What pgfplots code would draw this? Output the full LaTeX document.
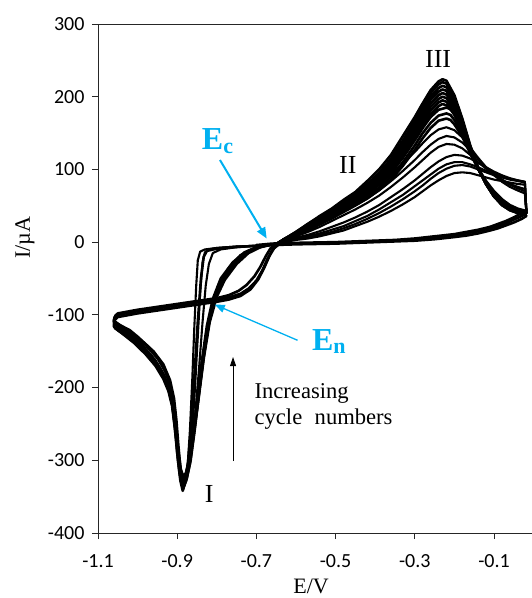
\documentclass[border=0pt]{standalone}
\usepackage{fontspec}
\setmainfont{Liberation Serif}
\newfontfamily\tickfont{Carlito}
\usepackage{pgfplots}
\pgfplotsset{compat=1.18}
\usetikzlibrary{arrows.meta}
\definecolor{ecblue}{RGB}{0,176,240}
\pgfplotsset{cv/.style={black, line width=2.6pt, line join=round, line cap=round, mark=none},
  cva/.style={black, line width=2.1pt, line join=round, line cap=round, mark=none}}
\begin{document}
\begin{tikzpicture}
\begin{axis}[
  scale only axis, width=434pt, height=509pt,
  xmin=-1.1, xmax=-0.004, ymin=-400, ymax=300,
  axis x line*=bottom, axis y line*=left,
  axis line style={black!85, line width=0.9pt, -},
  tick align=outside, major tick length=6pt,
  tick style={black!85, line width=0.9pt},
  xtick={-1.1,-0.9,-0.7,-0.5,-0.3,-0.1},
  xticklabels={-1.1,-0.9,-0.7,-0.5,-0.3,-0.1},
  ytick={-400,-300,-200,-100,0,100,200,300},
  yticklabels={-400,-300,-200,-100,0,100,200,300},
  ticklabel style={font=\tickfont\fontsize{20}{20}\selectfont, text=black},
  xticklabel style={yshift=-12pt},
  yticklabel style={xshift=-4pt},
  clip mode=individual,
]
% ---- anodic sweeps (early cycles)
\addplot[cva] coordinates {(-0.65,-3) (-0.63,0) (-0.60,3) (-0.57,5) (-0.54,8) (-0.51,12) (-0.48,16) (-0.45,22) (-0.42,28) (-0.39,35) (-0.36,43) (-0.33,52) (-0.30,62) (-0.28,70) (-0.26,78) (-0.24,85) (-0.22,91) (-0.20,95) (-0.18,96) (-0.16,95) (-0.14,92) (-0.12,89) (-0.10,86) (-0.08,84) (-0.06,82) (-0.04,80) (-0.022,79) (-0.018,40)};
\addplot[cva] coordinates {(-0.65,-3) (-0.63,1) (-0.60,4) (-0.57,7) (-0.54,10) (-0.51,14) (-0.48,19) (-0.45,25) (-0.42,32) (-0.39,40) (-0.36,49) (-0.33,59) (-0.30,70) (-0.28,78) (-0.26,87) (-0.24,95) (-0.22,101) (-0.20,105) (-0.18,106) (-0.16,104) (-0.14,100) (-0.12,96) (-0.10,92) (-0.08,89) (-0.06,86) (-0.04,84) (-0.022,82) (-0.018,40)};
\addplot[cva] coordinates {(-0.65,-3) (-0.63,1) (-0.60,5) (-0.57,8) (-0.54,12) (-0.51,17) (-0.48,22) (-0.45,29) (-0.42,36) (-0.39,45) (-0.36,55) (-0.33,65) (-0.30,77) (-0.28,85) (-0.26,93) (-0.24,101) (-0.22,107) (-0.20,110) (-0.18,110) (-0.16,107) (-0.14,103) (-0.12,98) (-0.10,94) (-0.08,90) (-0.06,87) (-0.04,85) (-0.022,83) (-0.018,40)};
\addplot[cva] coordinates {(-0.65,-3) (-0.63,1) (-0.60,6) (-0.57,10) (-0.54,15) (-0.51,21) (-0.48,27) (-0.45,34) (-0.42,42) (-0.39,51) (-0.36,62) (-0.33,73) (-0.30,85) (-0.28,94) (-0.26,103) (-0.24,111) (-0.22,117) (-0.20,120) (-0.18,119) (-0.16,115) (-0.14,109) (-0.12,103) (-0.10,97) (-0.08,92) (-0.06,88) (-0.04,85) (-0.022,83) (-0.018,40)};
% ---- anodic sweeps (middle cycles)
\addplot[cva] coordinates {(-0.65,-3) (-0.63,2) (-0.60,8) (-0.57,14) (-0.54,21) (-0.51,29) (-0.48,37) (-0.45,45) (-0.42,54) (-0.39,64) (-0.36,76) (-0.33,89) (-0.30,103) (-0.28,113) (-0.26,123) (-0.24,131) (-0.22,135) (-0.20,134) (-0.18,129) (-0.16,120) (-0.14,110) (-0.12,101) (-0.10,93) (-0.08,86) (-0.06,80) (-0.04,76) (-0.022,73) (-0.018,40)};
\addplot[cva] coordinates {(-0.65,-3) (-0.63,2) (-0.60,9) (-0.57,16) (-0.54,24) (-0.51,32) (-0.48,41) (-0.45,50) (-0.42,60) (-0.39,71) (-0.36,84) (-0.33,98) (-0.30,113) (-0.28,124) (-0.26,134) (-0.24,142) (-0.22,146) (-0.20,144) (-0.18,137) (-0.16,126) (-0.14,114) (-0.12,103) (-0.10,94) (-0.08,86) (-0.06,79) (-0.04,74) (-0.022,70) (-0.018,40)};
\addplot[cva] coordinates {(-0.65,-3) (-0.63,3) (-0.60,10) (-0.57,18) (-0.54,27) (-0.51,36) (-0.48,46) (-0.45,56) (-0.42,67) (-0.39,79) (-0.36,93) (-0.33,108) (-0.30,124) (-0.28,136) (-0.26,147) (-0.24,155) (-0.22,158) (-0.20,154) (-0.18,144) (-0.16,130) (-0.14,116) (-0.12,103) (-0.10,92) (-0.08,83) (-0.06,76) (-0.04,71) (-0.022,67) (-0.018,40)};
% ---- anodic sweeps (late cycles)
\addplot[cv] coordinates {(-0.65,-3) (-0.63,3) (-0.60,10) (-0.57,18) (-0.54,26) (-0.51,34) (-0.48,43) (-0.45,51) (-0.42,60) (-0.39,72) (-0.36,86) (-0.33,105) (-0.30,127) (-0.28,143) (-0.26,157) (-0.24,167) (-0.22,170) (-0.21,168) (-0.20,162) (-0.18,145) (-0.16,122) (-0.14,101) (-0.12,84) (-0.10,70) (-0.08,59) (-0.06,51) (-0.04,46) (-0.02,43)};
\addplot[cv] coordinates {(-0.65,-3) (-0.63,3) (-0.60,11) (-0.57,19) (-0.54,28) (-0.51,36) (-0.48,45) (-0.45,54) (-0.42,63) (-0.39,75) (-0.36,90) (-0.33,110) (-0.30,133) (-0.28,150) (-0.26,164) (-0.24,174) (-0.22,177) (-0.21,175) (-0.20,168) (-0.18,149) (-0.16,124) (-0.14,101) (-0.12,83) (-0.10,68) (-0.08,57) (-0.06,49) (-0.04,45) (-0.02,42)};
\addplot[cv] coordinates {(-0.65,-3) (-0.63,3) (-0.60,11) (-0.57,20) (-0.54,29) (-0.51,38) (-0.48,47) (-0.45,56) (-0.42,66) (-0.39,79) (-0.36,95) (-0.33,116) (-0.30,140) (-0.28,157) (-0.26,172) (-0.24,182) (-0.22,185) (-0.21,183) (-0.20,175) (-0.18,153) (-0.16,126) (-0.14,101) (-0.12,82) (-0.10,67) (-0.08,56) (-0.06,48) (-0.04,44) (-0.02,41)};
\addplot[cv] coordinates {(-0.65,-3) (-0.63,4) (-0.60,12) (-0.57,20) (-0.54,30) (-0.51,39) (-0.48,48) (-0.45,57) (-0.42,68) (-0.39,81) (-0.36,97) (-0.33,119) (-0.30,143) (-0.28,161) (-0.26,176) (-0.24,187) (-0.23,190) (-0.22,188) (-0.20,177) (-0.18,154) (-0.16,126) (-0.14,101) (-0.12,81) (-0.10,66) (-0.08,55) (-0.06,47) (-0.04,43) (-0.02,40)};
\addplot[cv] coordinates {(-0.65,-3) (-0.63,4) (-0.60,12) (-0.57,21) (-0.54,30) (-0.51,40) (-0.48,49) (-0.45,59) (-0.42,70) (-0.39,83) (-0.36,100) (-0.33,122) (-0.30,147) (-0.28,165) (-0.26,181) (-0.24,192) (-0.23,195) (-0.22,193) (-0.20,180) (-0.18,156) (-0.16,127) (-0.14,101) (-0.12,81) (-0.10,65) (-0.08,54) (-0.06,47) (-0.04,43) (-0.02,40)};
\addplot[cv] coordinates {(-0.65,-3) (-0.63,4) (-0.60,12) (-0.57,21) (-0.54,31) (-0.51,41) (-0.48,50) (-0.45,60) (-0.42,71) (-0.39,85) (-0.36,103) (-0.33,125) (-0.30,151) (-0.28,170) (-0.26,186) (-0.24,197) (-0.23,200) (-0.22,198) (-0.20,184) (-0.18,158) (-0.16,128) (-0.14,101) (-0.12,80) (-0.10,64) (-0.08,53) (-0.06,46) (-0.04,42) (-0.02,39)};
\addplot[cv] coordinates {(-0.65,-3) (-0.63,4) (-0.60,12) (-0.57,22) (-0.54,32) (-0.51,42) (-0.48,52) (-0.45,62) (-0.42,73) (-0.39,87) (-0.36,106) (-0.33,129) (-0.30,155) (-0.28,174) (-0.26,191) (-0.24,202) (-0.23,205) (-0.22,203) (-0.20,188) (-0.18,161) (-0.16,129) (-0.14,101) (-0.12,80) (-0.10,64) (-0.08,53) (-0.06,46) (-0.04,42) (-0.02,39)};
\addplot[cv] coordinates {(-0.65,-3) (-0.63,4) (-0.60,13) (-0.57,23) (-0.54,33) (-0.51,43) (-0.48,53) (-0.45,63) (-0.42,75) (-0.39,89) (-0.36,108) (-0.33,132) (-0.30,159) (-0.28,178) (-0.26,196) (-0.24,207) (-0.23,210) (-0.22,208) (-0.20,191) (-0.18,163) (-0.16,130) (-0.14,101) (-0.12,80) (-0.10,63) (-0.08,52) (-0.06,45) (-0.04,41) (-0.02,38)};
\addplot[cv] coordinates {(-0.65,-3) (-0.63,4) (-0.60,13) (-0.57,24) (-0.54,34) (-0.51,44) (-0.48,54) (-0.45,65) (-0.42,77) (-0.39,92) (-0.36,111) (-0.33,136) (-0.30,163) (-0.28,182) (-0.26,200) (-0.24,212) (-0.23,215) (-0.22,213) (-0.20,195) (-0.18,166) (-0.16,131) (-0.14,102) (-0.12,80) (-0.10,63) (-0.08,52) (-0.06,45) (-0.04,41) (-0.02,38)};
\addplot[cv] coordinates {(-0.65,-3) (-0.63,4) (-0.60,14) (-0.57,25) (-0.54,35) (-0.51,44) (-0.48,56) (-0.45,67) (-0.42,80) (-0.39,95) (-0.36,115) (-0.33,140) (-0.30,167) (-0.28,187) (-0.26,205) (-0.24,217) (-0.23,220) (-0.22,218) (-0.20,199) (-0.18,168) (-0.16,132) (-0.14,102) (-0.12,80) (-0.10,63) (-0.08,51) (-0.06,44) (-0.04,40) (-0.02,38)};
\addplot[cv] coordinates {(-0.65,-3) (-0.63,4) (-0.60,14) (-0.57,25) (-0.54,36) (-0.51,46) (-0.48,58) (-0.45,69) (-0.42,84) (-0.39,100) (-0.36,120) (-0.33,146) (-0.30,172) (-0.28,191) (-0.26,209) (-0.24,221) (-0.23,224) (-0.22,222) (-0.20,202) (-0.18,170) (-0.16,133) (-0.14,103) (-0.12,80) (-0.10,63) (-0.08,51) (-0.06,44) (-0.04,40) (-0.02,38)};
% ---- cathodic sweeps, positive region
\addplot[cv] coordinates {(-0.018,40) (-0.03,36) (-0.05,31) (-0.07,26) (-0.09,22) (-0.11,19) (-0.14,15) (-0.17,12) (-0.20,9) (-0.25,6) (-0.30,4) (-0.35,2) (-0.40,1) (-0.50,-1) (-0.60,-2) (-0.66,-3) (-0.70,-5)};
\addplot[cv] coordinates {(-0.018,36) (-0.03,32) (-0.05,27) (-0.07,23) (-0.09,19) (-0.11,16) (-0.14,12) (-0.17,9) (-0.20,7) (-0.25,4) (-0.30,2) (-0.35,1) (-0.40,0) (-0.50,-2) (-0.60,-3) (-0.66,-4) (-0.70,-6)};
\addplot[cv] coordinates {(-0.018,44) (-0.03,40) (-0.05,34) (-0.07,29) (-0.09,25) (-0.11,21) (-0.14,17) (-0.17,14) (-0.20,11) (-0.25,8) (-0.30,5) (-0.35,3) (-0.40,2) (-0.50,0) (-0.60,-1) (-0.66,-2) (-0.70,-4)};
% ---- cathodic sweeps: nucleation, peak I, switching
\addplot[cva] coordinates {(-0.70,-5) (-0.75,-6) (-0.80,-8) (-0.83,-10) (-0.842,-13) (-0.848,-25) (-0.852,-60) (-0.857,-120) (-0.862,-190) (-0.868,-260) (-0.874,-310) (-0.88,-333) (-0.885,-340) (-0.89,-330) (-0.895,-305) (-0.90,-270) (-0.907,-230) (-0.915,-200) (-0.93,-178) (-0.95,-160) (-0.98,-142) (-1.01,-128) (-1.04,-117) (-1.055,-111) (-1.06,-106)};
\addplot[cva] coordinates {(-0.70,-5) (-0.75,-6) (-0.80,-8) (-0.82,-10) (-0.83,-14) (-0.836,-28) (-0.842,-70) (-0.848,-130) (-0.855,-200) (-0.862,-260) (-0.87,-305) (-0.878,-328) (-0.884,-335) (-0.89,-325) (-0.896,-300) (-0.902,-265) (-0.91,-225) (-0.92,-200) (-0.935,-180) (-0.955,-162) (-0.985,-143) (-1.015,-128) (-1.045,-117) (-1.058,-110) (-1.06,-105)};
\addplot[cva] coordinates {(-0.70,-5) (-0.75,-7) (-0.79,-10) (-0.81,-15) (-0.82,-30) (-0.828,-60) (-0.836,-110) (-0.845,-175) (-0.855,-240) (-0.865,-290) (-0.875,-320) (-0.883,-330) (-0.89,-320) (-0.897,-290) (-0.905,-250) (-0.915,-215) (-0.93,-190) (-0.95,-168) (-0.98,-148) (-1.01,-132) (-1.04,-120) (-1.055,-113) (-1.06,-108)};
\addplot[cv] coordinates {(-0.66,-3) (-0.70,-7) (-0.73,-14) (-0.76,-28) (-0.79,-50) (-0.81,-78) (-0.825,-115) (-0.838,-165) (-0.85,-220) (-0.86,-265) (-0.87,-300) (-0.88,-322) (-0.886,-326) (-0.892,-315) (-0.898,-290) (-0.905,-255) (-0.913,-222) (-0.925,-196) (-0.945,-172) (-0.975,-152) (-1.005,-136) (-1.035,-123) (-1.052,-116) (-1.06,-110)};
\addplot[cv] coordinates {(-0.66,-3) (-0.69,-7) (-0.72,-15) (-0.75,-30) (-0.78,-52) (-0.80,-75) (-0.818,-110) (-0.833,-160) (-0.846,-215) (-0.858,-262) (-0.868,-298) (-0.878,-318) (-0.885,-322) (-0.891,-312) (-0.897,-288) (-0.904,-255) (-0.912,-224) (-0.924,-198) (-0.942,-177) (-0.97,-158) (-1.0,-142) (-1.03,-129) (-1.05,-121) (-1.06,-116)};
\addplot[cv] coordinates {(-0.66,-3) (-0.70,-8) (-0.73,-17) (-0.76,-33) (-0.785,-52) (-0.805,-78) (-0.82,-112) (-0.834,-160) (-0.847,-215) (-0.858,-265) (-0.868,-305) (-0.877,-328) (-0.884,-336) (-0.89,-328) (-0.896,-300) (-0.903,-260) (-0.911,-225) (-0.922,-200) (-0.94,-178) (-0.965,-158) (-0.995,-141) (-1.025,-127) (-1.048,-117) (-1.058,-111)};
\addplot[cv] coordinates {(-0.70,-5) (-0.76,-7) (-0.80,-9) (-0.825,-12) (-0.833,-20) (-0.84,-50) (-0.848,-110) (-0.856,-180) (-0.864,-250) (-0.872,-300) (-0.88,-330) (-0.886,-342) (-0.892,-328) (-0.898,-300) (-0.903,-270) (-0.907,-250) (-0.916,-200) (-0.93,-178) (-0.948,-160) (-0.97,-145) (-1.0,-130) (-1.02,-121) (-1.045,-114) (-1.06,-110)};
\addplot[cv] coordinates {(-0.66,-3) (-0.70,-7) (-0.74,-18) (-0.77,-36) (-0.795,-58) (-0.812,-88) (-0.826,-125) (-0.84,-175) (-0.852,-230) (-0.863,-280) (-0.873,-315) (-0.882,-332) (-0.888,-333) (-0.894,-318) (-0.90,-290) (-0.906,-255) (-0.913,-225) (-0.922,-205) (-0.935,-188) (-0.955,-170) (-0.98,-154) (-1.01,-138) (-1.04,-125) (-1.058,-118)};
\addplot[cv] coordinates {(-0.68,-5) (-0.72,-12) (-0.75,-25) (-0.78,-45) (-0.80,-68) (-0.816,-100) (-0.83,-145) (-0.843,-200) (-0.855,-255) (-0.866,-300) (-0.876,-325) (-0.886,-330) (-0.892,-310) (-0.897,-280) (-0.902,-245) (-0.908,-215) (-0.918,-190) (-0.935,-168) (-0.96,-150) (-0.99,-136) (-1.02,-124) (-1.045,-114) (-1.06,-108)};
% ---- anodic sweeps, negative region (reverse)
\addplot[cv] coordinates {(-1.06,-110) (-1.058,-103) (-1.05,-100) (-1.0,-95) (-0.95,-91) (-0.90,-87) (-0.85,-83) (-0.80,-79) (-0.77,-76) (-0.74,-71) (-0.72,-64) (-0.70,-53) (-0.685,-39) (-0.672,-23) (-0.66,-11) (-0.648,-4) (-0.635,0)};
\addplot[cv] coordinates {(-1.06,-108) (-1.056,-101) (-1.05,-98) (-1.0,-93) (-0.95,-89) (-0.90,-85) (-0.85,-81) (-0.80,-77) (-0.77,-73) (-0.745,-67) (-0.725,-59) (-0.705,-47) (-0.69,-34) (-0.677,-20) (-0.665,-9) (-0.65,-2) (-0.635,1)};
\addplot[cv] coordinates {(-1.06,-116) (-1.059,-108) (-1.05,-103) (-1.0,-98) (-0.95,-94) (-0.90,-90) (-0.85,-86) (-0.80,-82) (-0.77,-79) (-0.74,-74) (-0.715,-65) (-0.695,-51) (-0.68,-35) (-0.667,-19) (-0.655,-8) (-0.64,-2) (-0.63,1)};
% ---- frame top line
\draw[black!85, line width=0.9pt] (rel axis cs:0,1) -- (rel axis cs:1,1);
% ---- annotations
\node[anchor=base, font=\fontsize{26}{26}\selectfont, inner sep=0pt] at (axis cs:-0.241,240) {III};
\node[anchor=base, font=\fontsize{26}{26}\selectfont, inner sep=0pt] at (axis cs:-0.469,95) {II};
\node[anchor=base, font=\fontsize{26}{26}\selectfont, inner sep=0pt] at (axis cs:-0.819,-358) {I};
\node[anchor=base west, text=ecblue, font=\bfseries\fontsize{32}{32}\selectfont, inner sep=0pt] at (axis cs:-0.838,127) {E\raisebox{-3.5pt}{\fontsize{22}{22}\selectfont c}};
\node[anchor=base west, text=ecblue, font=\bfseries\fontsize{32}{32}\selectfont, inner sep=0pt] at (axis cs:-0.560,-149) {E\raisebox{-3.5pt}{\fontsize{22}{22}\selectfont n}};
\draw[ecblue, line width=2pt, -{Triangle[length=11pt,width=9pt]}] (axis cs:-0.792,113) -- (axis cs:-0.674,5);
\draw[ecblue, line width=1.3pt, -{Triangle[length=10pt,width=8pt]}] (axis cs:-0.596,-135) -- (axis cs:-0.805,-86);
\draw[black, line width=0.9pt, -{Triangle[length=9pt,width=6pt]}] (axis cs:-0.759,-301) -- (axis cs:-0.759,-158);
\node[anchor=base west, font=\fontsize{22.6}{26}\selectfont, inner sep=0pt] at (axis cs:-0.705,-215) {Increasing};
\node[anchor=base west, font=\fontsize{22.6}{26}\selectfont, inner sep=0pt] at (axis cs:-0.705,-251) {cycle\hspace{0.3em} numbers};
% ---- axis labels
\node[anchor=base, yshift=-60pt, font=\fontsize{22}{22}\selectfont, inner sep=0pt] at (rel axis cs:0.491,0) {E/V};
\node[anchor=center, xshift=-73pt, rotate=90, font=\fontsize{22}{22}\selectfont, inner sep=0pt] at (rel axis cs:0,0.58) {I/µA};
\end{axis}
\pgfresetboundingbox
\path[use as bounding box] ([xshift=-98pt, yshift=-65pt]current axis.south west) rectangle ([yshift=24pt]current axis.north east);
\end{tikzpicture}
\end{document}
